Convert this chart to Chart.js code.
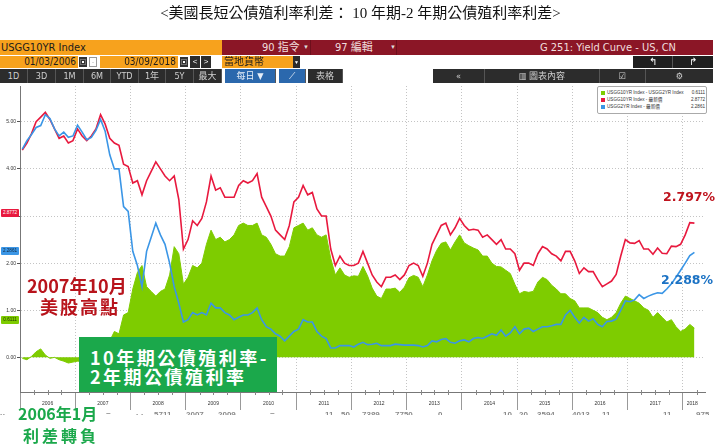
<!DOCTYPE html>
<html><head><meta charset="utf-8">
<script src="https://cdn.jsdelivr.net/npm/chart.js@4.4.1/dist/chart.umd.min.js"></script>
<style>
*{box-sizing:border-box}
body{margin:0;width:721px;height:446px;overflow:hidden;background:#fff;position:relative;font-family:'Liberation Sans','Noto Sans CJK TC',sans-serif}
#c{position:absolute;left:0;top:0}
.a{position:absolute;white-space:nowrap}
.tb{font-family:'Liberation Sans Narrow','DejaVu Sans Condensed','Noto Sans CJK TC',sans-serif;font-size:10px}
.btn{position:absolute;top:69px;height:14px;background:#2c2c2c;color:#cfcfcf;line-height:14px;text-align:center;font-size:9px;border-right:1px solid #555}
.cjk{font-family:'Noto Sans CJK TC',sans-serif;font-weight:700}
.lg{position:absolute;left:3px;font-size:4.6px;line-height:6px;color:#333;width:104px}
.lg i{display:inline-block;width:4px;height:4px;margin-right:2px;vertical-align:middle}
.lg b{position:absolute;right:0;font-weight:normal}
.bd{position:absolute;left:1px;width:18px;height:8px;font-size:4.6px;line-height:8px;text-align:center;border-radius:1px}
.gz{position:absolute;top:410px;height:5px;overflow:hidden;font:bold 8px 'Liberation Sans',sans-serif;color:#8a8a8a;line-height:10px;white-space:nowrap}
</style></head><body>
<canvas id="c" width="721" height="446"></canvas>

<div class="a" style="left:0;top:1px;width:721px;text-align:center;font:15px 'Liberation Serif','Noto Sans CJK TC',serif;color:#111">&lt;美國長短公債殖利率利差： 10 年期-2 年期公債殖利率利差&gt;</div>

<!-- toolbar row 1 -->
<div class="a tb" style="left:0;top:40px;width:222px;height:15px;background:#f7a21d;color:#1b1b1b;line-height:15px;font-size:11px;padding-left:1px">USGG10YR Index</div>
<div class="a tb" style="left:222px;top:40px;width:491px;height:15px;background:#8b1626"></div>
<div class="a tb" style="left:262px;top:40px;line-height:15px;color:#f1dede;font-size:11px">90 指令</div>
<div class="a" style="left:303px;top:40px;line-height:15px;color:#ddd;font-size:6px">▼</div>
<div class="a" style="left:310px;top:40px;width:1px;height:15px;background:#6e0f1c"></div>
<div class="a tb" style="left:335px;top:40px;line-height:15px;color:#f1dede;font-size:11px">97 編輯</div>
<div class="a" style="left:390px;top:40px;line-height:15px;color:#ddd;font-size:6px">▼</div>
<div class="a" style="left:396px;top:40px;width:1px;height:15px;background:#6e0f1c"></div>
<div class="a tb" style="left:540px;top:40px;line-height:15px;color:#f1dede;font-size:11px">G 251: Yield Curve - US, CN</div>

<!-- toolbar row 2 -->
<div class="a tb" style="left:0;top:56px;width:78px;height:12px;background:#f7a21d;color:#1b1b1b;line-height:12px;text-align:right;padding-right:2px">01/03/2006</div>
<div class="a" style="left:79px;top:57px;width:8px;height:10px;background:#333;color:#fff;font-size:6px;line-height:10px;text-align:center">▣</div>
<div class="a" style="left:89px;top:57px;width:8px;height:10px;background:#fff;border:1px solid #999;font-size:6px;line-height:8px;text-align:center">·</div>
<div class="a tb" style="left:100px;top:56px;width:78px;height:12px;background:#f7a21d;color:#1b1b1b;line-height:12px;text-align:right;padding-right:2px">03/09/2018</div>
<div class="a" style="left:180px;top:57px;width:8px;height:10px;background:#333;color:#fff;font-size:6px;line-height:10px;text-align:center">▣</div>
<div class="a" style="left:190px;top:56px;width:10px;height:12px;background:#2c2c2c;color:#fff;font-size:8px;line-height:12px;text-align:center">&lt;</div>
<div class="a" style="left:201px;top:56px;width:10px;height:12px;background:#2c2c2c;color:#fff;font-size:8px;line-height:12px;text-align:center">&gt;</div>
<div class="a tb" style="left:222px;top:56px;width:78px;height:12px;background:#f7a21d;color:#1b1b1b;line-height:12px;padding-left:2px">當地貨幣</div>
<div class="a" style="left:293px;top:56px;width:7px;height:12px;background:#2c2c2c;color:#fff;font-size:5px;line-height:12px;text-align:center">▼</div>
<div class="a" style="left:633px;top:56px;width:40px;height:12px;background:#1f1f1f;color:#fff;font-size:10px;line-height:12px;text-align:center;border-right:1px solid #555">↰</div>
<div class="a" style="left:673px;top:56px;width:40px;height:12px;background:#1f1f1f;color:#fff;font-size:10px;line-height:12px;text-align:center">↱</div>

<!-- toolbar row 3 -->
<div class="btn tb" style="left:0;width:28px">1D</div>
<div class="btn tb" style="left:28px;width:28px">3D</div>
<div class="btn tb" style="left:56px;width:28px">1M</div>
<div class="btn tb" style="left:84px;width:27px">6M</div>
<div class="btn tb" style="left:111px;width:28px">YTD</div>
<div class="btn tb" style="left:139px;width:27px">1年</div>
<div class="btn tb" style="left:166px;width:28px">5Y</div>
<div class="btn tb" style="left:194px;width:28px">最大</div>
<div class="btn tb" style="left:225px;width:51px;background:#2b68ad;color:#e6eef8">每日 ▼</div>
<div class="btn tb" style="left:279px;width:27px;background:#2b68ad;color:#e6eef8">⟋</div>
<div class="btn tb" style="left:308px;width:35px">表格</div>
<div class="btn tb" style="left:433px;width:52px">«</div>
<div class="btn tb" style="left:485px;width:115px">▥ 圖表內容</div>
<div class="btn tb" style="left:600px;width:46px">☑</div>
<div class="btn tb" style="left:646px;width:67px;border-right:none">⚙</div>

<!-- legend -->
<div class="a" style="left:597px;top:86px;width:110px;height:28px;background:#fff;border:1px solid #aaa;border-radius:2px">
  <div class="lg" style="top:3px"><i style="background:#7ecc00"></i>USGG10YR Index - USGG2YR Index<b>0.6111</b></div>
  <div class="lg" style="top:10px"><i style="background:#e8193e"></i>USGG10YR Index - 最新價<b>2.8772</b></div>
  <div class="lg" style="top:17px"><i style="background:#3b96e6"></i>USGG2YR Index - 最新價<b>2.2861</b></div>
</div>

<!-- value badges -->
<div class="bd" style="top:209px;background:#e8193e;color:#fff">2.8772</div>
<div class="bd" style="top:247px;background:#3b96e6;color:#102a44">2.2861</div>
<div class="bd" style="top:316px;background:#7ecc00;color:#1d3300">0.6111</div>

<!-- faint cut-off text row under the axis -->
<div class="gz" style="left:0">··</div>
<div class="gz" style="left:106px">=</div>
<div class="gz" style="left:136px">· ·</div>
<div class="gz" style="left:154px">5711</div>
<div class="gz" style="left:186px">2007</div>
<div class="gz" style="left:218px">2009</div>
<div class="gz" style="left:270px">=</div>
<div class="gz" style="left:325px">11</div>
<div class="gz" style="left:341px">50</div>
<div class="gz" style="left:362px">7389</div>
<div class="gz" style="left:395px">7750</div>
<div class="gz" style="left:438px">0</div>
<div class="gz" style="left:503px">10</div>
<div class="gz" style="left:519px">20</div>
<div class="gz" style="left:537px">3594</div>
<div class="gz" style="left:572px">4013</div>
<div class="gz" style="left:602px">11</div>
<div class="gz" style="left:663px">11</div>
<div class="gz" style="left:696px">975</div>

<!-- annotations -->
<div class="a cjk" style="left:27px;top:274px;font-size:18px;line-height:22px;color:#b8141c">2007年10月</div>
<div class="a cjk" style="left:40px;top:295px;font-size:18px;line-height:22px;color:#b8141c;letter-spacing:2px">美股高點</div>
<div class="a" style="left:79px;top:337px;width:198px;height:55px;background:#1ba84b"></div>
<div class="a cjk" style="left:90px;top:345px;font-size:18px;line-height:24px;color:#fff;letter-spacing:2.5px">10年期公債殖利率-</div>
<div class="a cjk" style="left:90px;top:364px;font-size:18px;line-height:24px;color:#fff;letter-spacing:2.5px">2年期公債殖利率</div>
<div class="a cjk" style="left:18px;top:403px;font-size:16px;line-height:20px;color:#1ba84b;background:transparent">2006年1月</div>
<div class="a cjk" style="left:23px;top:425px;font-size:16px;line-height:20px;color:#1ba84b;letter-spacing:3px">利差轉負</div>
<div class="a" style="left:663px;top:189px;font:bold 12.5px 'DejaVu Sans',sans-serif;color:#bf141e">2.797%</div>
<div class="a" style="left:661px;top:272px;font:bold 12.5px 'DejaVu Sans',sans-serif;color:#1b72c4">2.288%</div>

<script>
// monthly series, Jan 2006 .. Mar 2018
const firstYear = 2006;
const yearLabels = ['2006','2007','2008','2009','2010','2011','2012','2013','2014','2015','2016','2017','2018'];
const yTicks = [0,1,2,3,4,5];

const y10 = [
 4.40,4.55,4.75,5.00,5.10,5.20,5.05,4.85,4.65,4.70,4.55,4.60,
 4.85,4.70,4.60,4.70,4.85,5.15,4.95,4.65,4.55,4.50,4.10,4.05,
 3.70,3.75,3.45,3.75,3.95,4.15,4.00,3.85,3.75,3.85,3.35,2.30,
 2.50,2.90,2.80,2.95,3.30,3.85,3.55,3.60,3.40,3.40,3.40,3.65,
 3.75,3.70,3.75,3.90,3.40,3.20,3.00,2.70,2.60,2.50,2.80,3.30,
 3.40,3.65,3.45,3.50,3.15,3.00,3.00,2.30,1.95,2.15,2.00,1.95,
 1.95,2.00,2.25,2.00,1.75,1.60,1.50,1.70,1.70,1.75,1.65,1.75,
 1.95,2.00,1.95,1.72,2.00,2.40,2.60,2.80,2.85,2.60,2.75,2.95,
 2.80,2.70,2.72,2.70,2.55,2.60,2.50,2.40,2.50,2.30,2.30,2.20,
 1.85,2.00,2.00,1.95,2.20,2.35,2.30,2.20,2.15,2.05,2.25,2.25,
 2.05,1.78,1.90,1.82,1.82,1.65,1.50,1.56,1.62,1.76,2.15,2.50,
 2.43,2.42,2.48,2.30,2.30,2.19,2.32,2.21,2.20,2.36,2.35,2.40,
 2.60,2.86,2.85
];
const y2 = [
 4.42,4.60,4.73,4.88,4.92,5.15,5.07,4.85,4.70,4.78,4.67,4.70,
 4.93,4.78,4.62,4.67,4.82,5.05,4.80,4.30,4.00,4.00,3.20,3.10,
 2.25,1.95,1.50,2.25,2.55,2.85,2.60,2.40,2.00,1.50,1.15,0.75,
 0.80,0.95,0.90,0.95,0.90,1.15,1.05,1.05,0.95,0.90,0.80,0.85,
 0.90,0.90,0.95,1.05,0.80,0.65,0.60,0.50,0.45,0.35,0.45,0.55,
 0.60,0.80,0.75,0.75,0.55,0.45,0.40,0.20,0.20,0.25,0.25,0.25,
 0.22,0.28,0.32,0.27,0.28,0.30,0.25,0.25,0.25,0.28,0.27,0.26,
 0.26,0.26,0.25,0.22,0.25,0.35,0.33,0.38,0.40,0.32,0.30,0.35,
 0.37,0.33,0.40,0.42,0.40,0.45,0.50,0.47,0.58,0.45,0.52,0.65,
 0.50,0.60,0.62,0.55,0.60,0.65,0.65,0.67,0.70,0.70,0.90,1.00,
 0.85,0.73,0.85,0.77,0.82,0.70,0.65,0.76,0.77,0.81,1.00,1.20,
 1.18,1.22,1.33,1.25,1.30,1.34,1.37,1.36,1.45,1.56,1.70,1.85,
 2.00,2.16,2.23
];
const spread = [
 -0.02,-0.05,0.02,0.12,0.18,0.05,-0.02,0.00,-0.05,-0.08,-0.12,-0.10,
 -0.08,-0.08,-0.02,0.03,0.03,0.10,0.15,0.35,0.55,0.50,0.90,0.95,
 1.45,1.80,1.95,1.50,1.40,1.30,1.40,1.45,1.75,2.35,2.20,1.55,
 1.70,1.95,1.90,2.00,2.40,2.70,2.50,2.55,2.45,2.50,2.60,2.80,
 2.85,2.80,2.80,2.85,2.60,2.55,2.40,2.20,2.15,2.15,2.35,2.75,
 2.80,2.85,2.70,2.75,2.60,2.55,2.60,2.10,1.75,1.90,1.75,1.70,
 1.73,1.72,1.93,1.73,1.47,1.30,1.25,1.45,1.45,1.47,1.38,1.49,
 1.69,1.74,1.70,1.50,1.75,2.05,2.27,2.42,2.45,2.28,2.45,2.60,
 2.43,2.37,2.32,2.28,2.15,2.15,2.00,1.93,1.92,1.85,1.78,1.55,
 1.35,1.40,1.38,1.40,1.60,1.70,1.65,1.53,1.45,1.35,1.35,1.25,
 1.20,1.05,1.05,1.05,1.00,0.95,0.85,0.80,0.85,0.95,1.15,1.30,
 1.25,1.20,1.15,1.05,1.00,0.85,0.95,0.85,0.75,0.80,0.65,0.55,
 0.60,0.70,0.62
];

// month categories -> decimal year position
const months = y10.map((_, i) => (firstYear + Math.floor(i / 12)) + '-' + String(i % 12 + 1).padStart(2, '0'));
const xPos = months.map(m => { const [yy, mm] = m.split('-').map(Number); return yy + (mm - 1) / 12 + 1 / 24; });
const pts = arr => arr.map((v, i) => ({ x: xPos[i], y: v }));

const yearBounds = yearLabels.map(Number);
const yearLabelPos = yearBounds.map((y, i) => i === yearBounds.length - 1 ? y + 0.17 : y + 0.5);

const axisExtras = {
  id: 'axisExtras',
  afterDraw(chart) {
    const xs = chart.scales.x, ctx = chart.ctx, b = chart.chartArea.bottom;
    ctx.save();
    ctx.strokeStyle = '#888'; ctx.lineWidth = 1;
    ctx.beginPath();
    for (let y = 2006; y < 2018.4; y++) {
      for (let q = 1; q < 4; q++) {
        const px = Math.round(xs.getPixelForValue(y + q / 4)) + 0.5;
        if (px < chart.chartArea.right) { ctx.moveTo(px, b - 2); ctx.lineTo(px, b + 3); }
      }
    }
    ctx.stroke();
    ctx.fillStyle = '#333';
    ctx.font = '5px "Liberation Sans"';
    ctx.textAlign = 'center'; ctx.textBaseline = 'middle';
    yearLabels.forEach((t, i) => ctx.fillText(t, xs.getPixelForValue(yearLabelPos[i]), 404));
    ctx.restore();
  }
};

new Chart(document.getElementById('c'), {
  type: 'line',
  data: {
    datasets: [
      { label: 'USGG2YR Index - 最新價', data: pts(y2), borderColor: '#3b96e6', borderWidth: 1.6, pointRadius: 0, fill: false, order: 1 },
      { label: 'USGG10YR Index - 最新價', data: pts(y10), borderColor: '#e8193e', borderWidth: 1.6, pointRadius: 0, fill: false, order: 2 },
      { label: 'USGG10YR Index - USGG2YR Index', data: pts(spread), borderColor: '#7ecc00', backgroundColor: '#7ecc00', borderWidth: 1, pointRadius: 0, fill: 'origin', order: 3 }
    ]
  },
  options: {
    responsive: false, animation: false, devicePixelRatio: 1,
    layout: { padding: { top: 86, right: 16, left: 0, bottom: 0 } },
    plugins: { legend: { display: false }, tooltip: { enabled: false } },
    scales: {
      x: {
        type: 'linear', min: 2006, max: 2018.4,
        afterBuildTicks(s) { s.ticks = yearBounds.map(v => ({ value: v })); },
        afterFit(s) { s.height = 54; },
        grid: { color: '#c4c4c4', lineWidth: 1, tickLength: 18, tickColor: '#999', drawTicks: true },
        border: { display: true, color: '#777', dash: [1, 2] },
        ticks: { display: false }
      },
      y: {
        min: -0.735, max: 5.76,
        afterBuildTicks(s) { s.ticks = yTicks.map(v => ({ value: v })); },
        afterFit(s) { s.width = 20; },
        grid: { color: '#c4c4c4', lineWidth: 1, tickLength: 3, tickColor: '#555' },
        border: { display: true, color: '#777', dash: [1, 2] },
        ticks: { font: { size: 5, family: 'Liberation Sans' }, color: '#333', padding: 1, callback: v => Number(v).toFixed(2) }
      }
    }
  },
  plugins: [axisExtras]
});
</script>
</body></html>
